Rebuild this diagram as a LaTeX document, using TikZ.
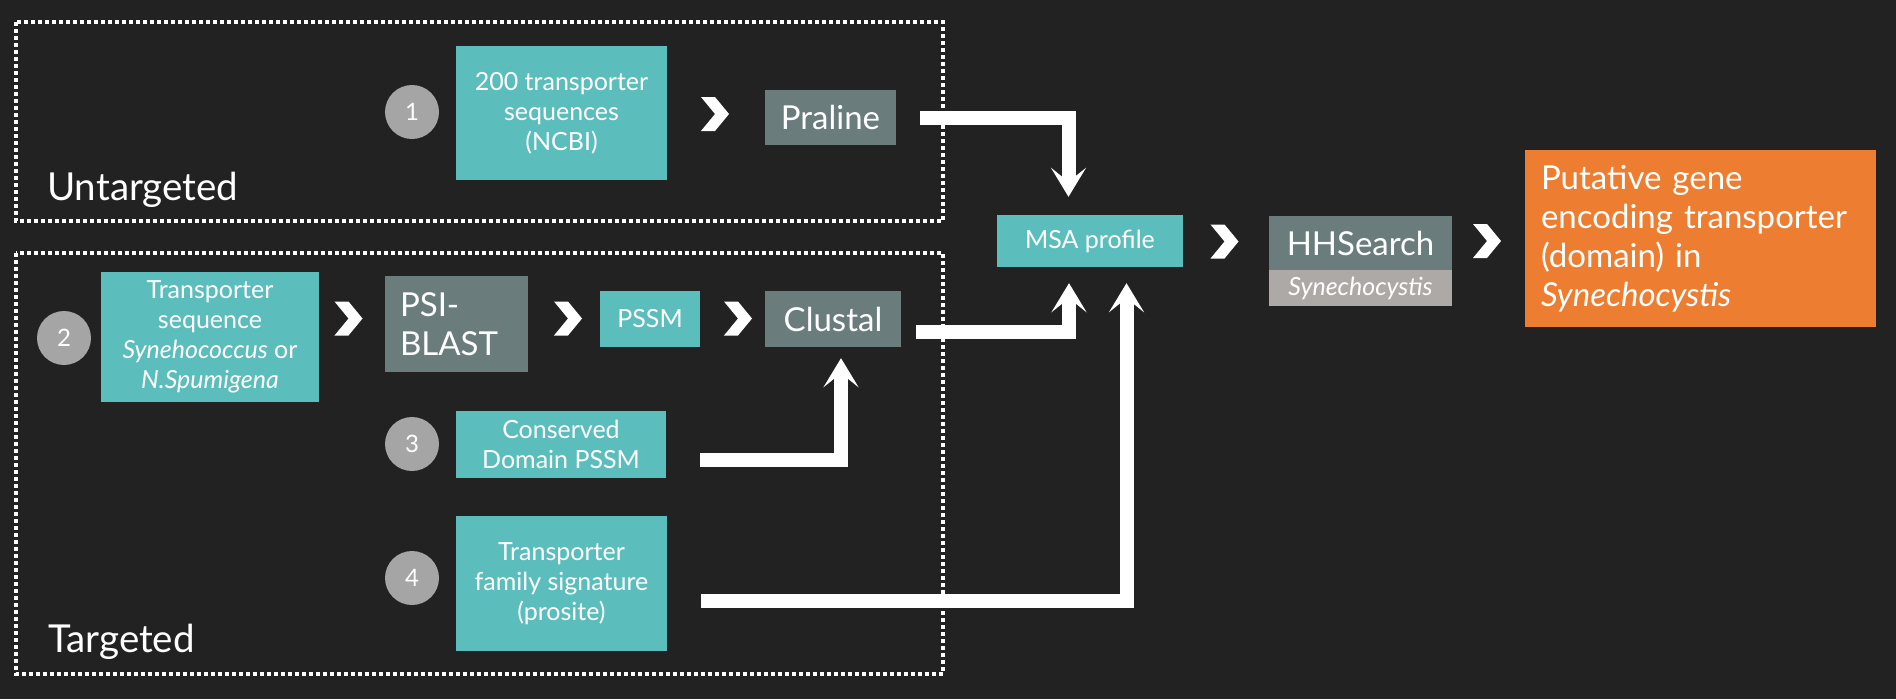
\documentclass[tikz,border=0pt]{standalone}
\usepackage{fontspec}
\setmainfont{Lato}
\usetikzlibrary{shapes.symbols, arrows.meta, positioning}
\definecolor{bgdark}{RGB}{34,34,34}
\definecolor{tealbox}{RGB}{91,190,189}
\definecolor{slate}{RGB}{107,124,125}
\definecolor{dotgrey}{RGB}{165,165,165}
\definecolor{mistgrey}{RGB}{173,169,167}
\definecolor{ochre}{RGB}{237,125,49}

\begin{document}
\begin{tikzpicture}[x=1pt, y=-1pt,
  tbox/.style={fill=tealbox, text=white, inner sep=0pt, align=center, font=\fontsize{25}{30}\selectfont},
  gbox/.style={fill=slate, text=white, inner sep=0pt, font=\fontsize{33}{39}\selectfont},
  numdot/.style={circle, fill=dotgrey, text=white, minimum size=54pt, inner sep=0pt, font=\fontsize{24}{24}\selectfont},
  chev/.style={signal, signal to=east, signal from=west, signal pointer angle=101, fill=white, minimum width=27pt, minimum height=34pt, inner sep=0pt},
  frame/.style={draw=white, line width=3.5pt, dash pattern=on 4pt off 3pt},
  fat/.style={draw=white, line width=14pt, -{Stealth[length=29pt, width=35pt, inset=14pt]}},
  tag/.style={text=white, font=\fontsize{38.5}{38.5}\selectfont, anchor=base west, inner sep=0pt}
]
  \fill[bgdark] (0,0) rectangle (1896,699);
  \useasboundingbox (0,0) rectangle (1896,699);

  % the two groups
  \draw[frame] (16,22) rectangle (943,221);
  \draw[frame] (16,253) rectangle (943,674);
  \node[tag] (untag) at (47,200) {Untargeted};
  \node[tag] (tag) at (48,652) {Targeted};

  % 1: untargeted
  \node[numdot] (n1) at (412,112) {1};
  \node[tbox, minimum width=211pt, minimum height=134pt] (ncbi) at (561.5,113) {200 transporter\\ sequences\\ (NCBI)};
  \node[gbox, minimum width=131pt, minimum height=55pt] (praline) at (830.5,117.5) {Praline};

  % 2-4: targeted
  \node[numdot] (n2) at (64,338) {2};
  \node[tbox, minimum width=218pt, minimum height=130pt] (query) at (210,337) {Transporter\\ sequence\\ \textit{Synehococcus} or\\ \textit{N.Spumigena}};
  \node[gbox, minimum width=143pt, minimum height=96pt, text width=113pt, align=left] (psi) at (456.5,324) {PSI-\\ BLAST};
  \node[tbox, minimum width=100pt, minimum height=56pt] (pssm) at (650,319) {PSSM};
  \node[gbox, minimum width=136pt, minimum height=56pt] (clustal) at (833,319) {Clustal};
  \node[numdot] (n3) at (412,444) {3};
  \node[tbox, minimum width=210pt, minimum height=67pt] (cdd) at (561,444.5) {Conserved\\ Domain PSSM};
  \node[numdot] (n4) at (412,578) {4};
  \node[tbox, minimum width=211pt, minimum height=135pt] (prosite) at (561.5,583.5) {Transporter\\ family signature\\ (prosite)};

  % profile and search
  \node[tbox, minimum width=186pt, minimum height=52pt] (msa) at (1090,241) {MSA profile};
  \node[gbox, minimum width=183pt, minimum height=54pt] (hhs) at (1360.5,243) {HHSearch};
  \node[fill=mistgrey, text=white, inner sep=0pt, minimum width=183pt, minimum height=36pt, font=\fontsize{25}{25}\selectfont\itshape, below=0pt of hhs] (hhsdb) {Synechocystis};
  \node[fill=ochre, text=white, inner sep=0pt, minimum width=351pt, minimum height=177pt, text width=319pt, align=left, font=\fontsize{33}{39}\selectfont] (hit) at (1700.5,238.5) {Putative gene\\ encoding transporter\\ (domain) in\\ \textit{Synechocystis}};

  % chevrons
  \node[chev] (c1) at (715,114) {};
  \node[chev] (c2) at (348.5,318.5) {};
  \node[chev] (c3) at (568,318.5) {};
  \node[chev] (c4) at (738,318.5) {};
  \node[chev] (c5) at (1224.5,241.5) {};
  \node[chev] (c6) at (1487,241) {};

  % fat arrows
  \draw[fat] ([xshift=24pt]praline.east) -| ([xshift=-21.5pt, yshift=18pt]msa.north);
  \draw[fat] ([xshift=15pt, yshift=-13pt]clustal.east) -| ([xshift=-21pt, yshift=-16pt]msa.south);
  \draw[fat] ([xshift=34pt, yshift=-15pt]cdd.east) -| ([xshift=8pt, yshift=-11pt]clustal.south);
  \draw[fat] ([xshift=34pt, yshift=-17.5pt]prosite.east) -| ([xshift=36.5pt, yshift=-16pt]msa.south);
\end{tikzpicture}
\end{document}
